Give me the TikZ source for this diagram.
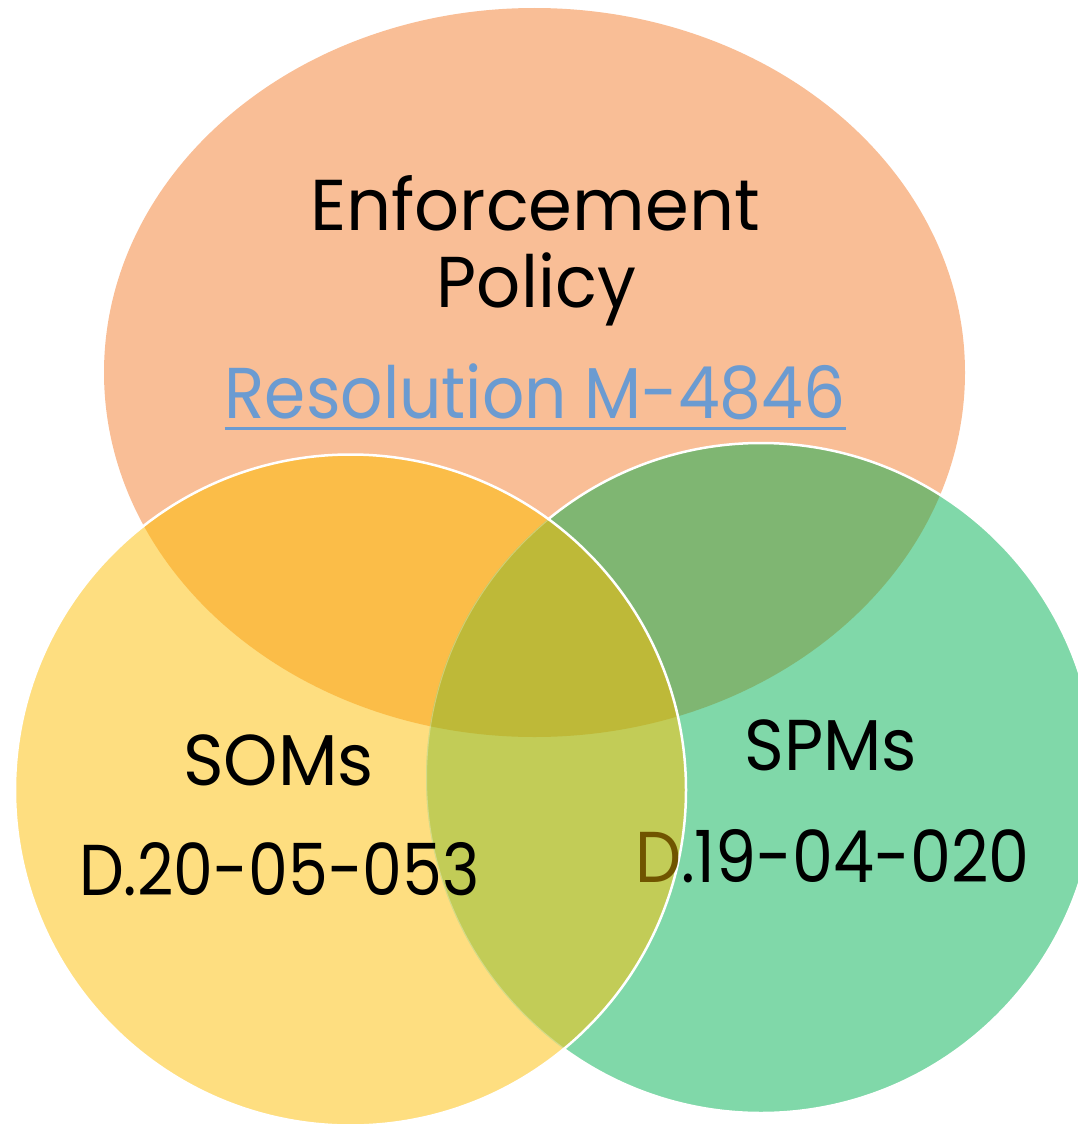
\documentclass[tikz,border=0pt]{standalone}
\usepackage{fontspec}
\setmainfont{Poppins}
\usetikzlibrary{positioning}
\definecolor{policyfill}{RGB}{249,190,150}
\definecolor{somfill}{RGB}{254,222,128}
\definecolor{spmfill}{RGB}{128,216,169}
\definecolor{policysom}{RGB}{251,189,72}
\definecolor{policyspm}{RGB}{127,182,114}
\definecolor{somspm}{RGB}{194,204,87}
\definecolor{allthree}{RGB}{190,185,56}
\definecolor{linkblue}{RGB}{107,155,209}
\definecolor{dbrown}{RGB}{112,84,0}
\tikzset{venntext/.style={anchor=base, inner sep=0pt, font=\fontsize{72}{80}\selectfont},
         linktext/.style={venntext, text=linkblue},
         ring/.style={draw=white, line width=2.5pt}}
\def\policyshape{(534.5,-372.5) ellipse [x radius=430.5, y radius=364.5]}
\def\somshape{(350.5,-790) circle [radius=335.5]}
\def\spmshape{(761,-778) circle [radius=335]}
\newcommand{\narrow}[2]{\scalebox{#1}[1]{#2}}

\begin{document}
\begin{tikzpicture}[x=1pt,y=1pt]
\useasboundingbox (0,0) rectangle (1078,-1124);

% the three sets
\fill [policyfill] \policyshape;
\fill [spmfill] \spmshape;
\begin{scope}
  \clip \policyshape;
  \fill [policyspm] \spmshape;
\end{scope}
\path [ring] \spmshape;
\fill [somfill] \somshape;
\begin{scope}
  \clip \somshape;
  \fill [policysom] \policyshape;
  \fill [somspm] \spmshape;
  \clip \spmshape;
  \fill [allthree] \policyshape;
  \path [draw=white, draw opacity=0.3, line width=2pt] \spmshape;
\end{scope}
\path [ring] \somshape;

% labels
\node (enforce) [venntext] at (535,-230) {\narrow{0.98}{Enforcement}};
\node (policy) [venntext] at (536.5,-307) {\narrow{0.96}{Policy}};
\node (resol) [linktext] at (535,-418) {\narrow{0.92}{Resolution M-4846}};
\draw [linkblue, line width=3pt] ([yshift=-10pt]resol.base west) -- ([yshift=-10pt]resol.base east);

\node (soms) [venntext] at (278.5,-785) {\narrow{0.96}{SOMs}};
\node (somdec) [venntext] at (279.5,-895) {\narrow{0.88}{D.20-05-053}};
\node (spms) [venntext] at (831,-770) {\narrow{0.94}{SPMs}};
\node (spmdec) [venntext] at (832.5,-882) {\narrow{0.905}{{\color{dbrown}D}.19-04-020}};
\end{tikzpicture}
\end{document}
